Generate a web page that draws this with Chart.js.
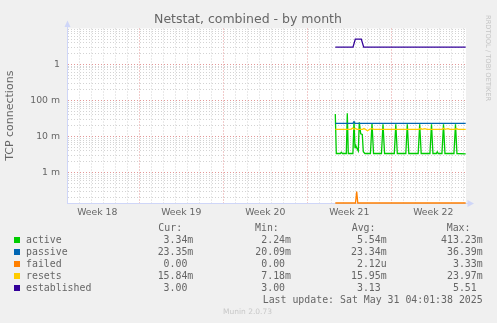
<!DOCTYPE html>
<html><head><meta charset="utf-8">
<script src="https://cdn.jsdelivr.net/npm/chart.js@4"></script>
<style>
html,body{margin:0;padding:0;background:#F0F0F0;}
#wrap{position:relative;width:497px;height:323px;overflow:hidden;background:#F0F0F0;}
canvas{position:absolute;left:0;top:0;}
.t{position:absolute;white-space:pre;color:#666;}
.mono{font-family:"DejaVu Sans Mono",monospace;font-size:9.9px;line-height:12px;}
.r{text-align:right;}
.sq{position:absolute;width:6px;height:6px;}
</style></head><body>
<div id="wrap">
<canvas id="c" width="497" height="323"></canvas>
<div class="t" id="title" style="left:0;width:496px;text-align:center;top:12.7px;font-family:'DejaVu Sans';font-size:12.5px;line-height:12.5px;">Netstat, combined - by month</div>
<div class="t" style="left:484px;top:15px;writing-mode:vertical-rl;font-family:'DejaVu Sans';font-size:6.7px;line-height:8px;color:#c4c4c4;">RRDTOOL / TOBI OETIKER</div>
<div id="legend"></div>
<div class="t" style="left:0;width:495px;text-align:center;top:307.4px;font-family:'DejaVu Sans';font-size:7.5px;line-height:10px;color:#c8c8c8;">Munin 2.0.73</div>
</div>
<script>
// ---- data (x = days relative to Mon May 26 2025 00:00) ----
const weekLabels = ['Week 18','Week 19','Week 20','Week 21','Week 22'];
const weekMid = [-24.5,-17.5,-10.5,-3.5,3.5];
const weekStarts = [-21,-14,-7,0];

const yTickValues = [0.001,0.01,0.1,1];
const yTickLabels = ['1 m','10 m','100 m','1'];

const activeT = [-4.667,-4.583,-4.25,-4.17,-4.08,-3.75,-3.667,-3.583,-3.2,-3.108,-3.025,-2.95,-2.83,-2.75,-2.667,-2.55,-2.417,-2.333,-2.2,
 -1.74,-1.608,-1.48, -0.82,-0.692,-0.56, 0.25,0.375,0.5, 1.21,1.333,1.46, 2.24,2.367,2.49, 3.22,3.35,3.47, 3.75,3.83,3.91,
 4.22,4.35,4.47, 5.22,5.35,5.47, 6.2];
const activeV = [0.042,0.0034,0.0034,0.0037,0.0034,0.0034,0.044,0.0034,0.0034,0.026,0.005,0.0055,0.0045,0.004,0.025,0.012,0.0115,0.0038,0.0034,
 0.0034,0.023,0.0034, 0.0034,0.022,0.0034, 0.0034,0.022,0.0034, 0.0034,0.022,0.0034, 0.0034,0.022,0.0034, 0.0034,0.022,0.0034, 0.0034,0.0038,0.0034,
 0.0034,0.022,0.0034, 0.0034,0.022,0.0034, 0.00334];

const passiveT = [-4.667,-3.2,-3.108,-3.025,6.2];
const passiveV = [0.02335,0.0234,0.026,0.0234,0.02335];

const failedT = [-4.667,-2.983,-2.883,-2.792,6.2];
const failedV = [0,0,0.0003,0,0];

const resetsT = [-4.667,-3.358,-3.233,-3.108,-2.983,-2.858,-2.4,-2.275,-2.15,-1.983,-1.817,-1.608,-1.44,
 2.308,2.433,2.558,2.808,2.975,4.225,4.35,4.475,4.725,4.892,5.308,5.433,5.558,6.2];
const resetsV = [0.0159,0.0159,0.0172,0.0159,0.0168,0.0159,0.0159,0.0167,0.0159,0.0146,0.0159,0.0166,0.0159,
 0.0159,0.0169,0.0159,0.0167,0.0159,0.0159,0.0169,0.0159,0.0167,0.0159,0.0159,0.0168,0.0159,0.01584];

const establishedT = [-4.667,-3.192,-3.0,-2.5,-2.3,6.2];
const establishedV = [3,3,5.0,5.0,3,3];

const seriesNames = ['active','passive','failed','resets','established'];
const seriesColors = ['#00CC00','#0066B3','#FF8000','#FFCC00','#330099'];
const curVals = ['3.34m','23.35m','0.00 ','15.84m','3.00 '];
const minVals = ['2.24m','20.09m','0.00 ','7.18m','3.00 '];
const avgVals = ['5.54m','23.34m','2.12u','15.95m','3.13 '];
const maxVals = ['413.23m','36.39m','3.33m','23.97m','5.51 '];
const lastUpdate = 'Last update: Sat May 31 04:01:38 2025';

// ---- axis ranges ----
const xMin = -27.025, xMax = 6.225;
const yMin = 1.449e-4, yMax = 9.87;

// ---- legend (HTML text) ----
const lg = document.getElementById('legend');
function addText(txt, left, top, right){
  const d = document.createElement('div');
  d.className = 't mono' + (right ? ' r' : '');
  d.textContent = txt;
  if (right) { d.style.left = (left - 400) + 'px'; d.style.width = '400px'; }
  else d.style.left = left + 'px';
  d.style.top = top + 'px';
  lg.appendChild(d);
}
const headTop = 221.9;
addText('Cur:', 158.3, headTop);
addText('Min:', 255, headTop);
addText('Avg:', 351.7, headTop);
addText('Max:', 446.7, headTop);
seriesNames.forEach((n,i)=>{
  const top = headTop + 12*(i+1);
  const sq = document.createElement('div');
  sq.className = 'sq';
  sq.style.left = '14px'; sq.style.top = (236.7 + 12*i) + 'px';
  sq.style.background = seriesColors[i];
  lg.appendChild(sq);
  addText(n, 26, top);
  addText(curVals[i], 193.3, top, true);
  addText(minVals[i], 291, top, true);
  addText(avgVals[i], 386.7, top, true);
  addText(maxVals[i], 482.7, top, true);
});
addText(lastUpdate, 482.7, headTop + 12*6, true);

// ---- chart ----
function pts(T, V){ return T.map((t,i)=>({x:t, y: V[i] > 0 ? V[i] : yMin})); }
const series = [[activeT,activeV],[passiveT,passiveV],[failedT,failedV],[resetsT,resetsV],[establishedT,establishedV]];
const datasets = series.map((s,i)=>({
  label: seriesNames[i],
  data: pts(s[0], s[1]),
  borderColor: seriesColors[i],
  backgroundColor: seriesColors[i],
  borderWidth: 1.3,
  pointRadius: 0,
  fill: false,
  tension: 0,
  order: 5 - i,
  clip: i === 2 ? 3 : 0
}));

const xTicks = [];
for (let d = -27; d <= 6; d++) xTicks.push(d);
weekMid.forEach(v=>xTicks.push(v));
xTicks.sort((a,b)=>a-b);

const yGrid = [];
for (let e = -4; e <= 0; e++) for (let m = 1; m <= 9; m++) {
  const v = m * Math.pow(10, e);
  if (v >= yMin && v <= yMax) yGrid.push(v);
}
const isDecade = v => Math.abs(Math.log10(v) - Math.round(Math.log10(v))) < 1e-9;

const MINOR = 'rgba(140,140,140,0.38)';
const MAJOR = 'rgba(200,50,50,0.5)';
const AXIS = '#CFD6F8';
const tickFont = {family:'DejaVu Sans', size:9.3};

const deco = {
  id:'deco',
  beforeDraw(chart){
    const {ctx, chartArea:a} = chart;
    ctx.save(); ctx.fillStyle = '#FFFFFF';
    ctx.fillRect(a.left, a.top, a.right - a.left, a.bottom - a.top);
    ctx.restore();
  },
  afterDraw(chart){
    const {ctx, chartArea:a} = chart;
    ctx.save();
    ctx.strokeStyle = AXIS; ctx.fillStyle = AXIS; ctx.lineWidth = 1;
    const lx = Math.round(a.left) + 0.5, by = Math.round(a.bottom) + 0.5;
    ctx.beginPath(); ctx.moveTo(lx, a.top); ctx.lineTo(lx, a.top - 4); ctx.stroke();
    ctx.beginPath(); ctx.moveTo(lx, a.top - 8); ctx.lineTo(lx - 3, a.top - 1.5); ctx.lineTo(lx + 3, a.top - 1.5); ctx.closePath(); ctx.fill();
    ctx.beginPath(); ctx.moveTo(a.right, by); ctx.lineTo(a.right + 2, by); ctx.stroke();
    ctx.beginPath(); ctx.moveTo(a.right + 8, by); ctx.lineTo(a.right + 1.5, by - 3.5); ctx.lineTo(a.right + 1.5, by + 3.5); ctx.closePath(); ctx.fill();
    ctx.restore();
  }
};

new Chart(document.getElementById('c'), {
  type:'line',
  data:{datasets},
  options:{
    responsive:false, animation:false,
    layout:{padding:{left:0, right:31, top:28.5, bottom:100}},
    plugins:{legend:{display:false}, tooltip:{enabled:false}, title:{display:false}},
    scales:{
      x:{
        type:'linear', min:xMin, max:xMax, bounds:'data',
        afterFit(s){ s.height = 20; },
        afterBuildTicks(s){ s.ticks = xTicks.map(v=>({value:v})); },
        ticks:{autoSkip:false, maxRotation:0, padding:4, font:tickFont, color:'#666',
          callback(v){ const i = weekMid.indexOf(v); return i >= 0 ? weekLabels[i] : ''; }},
        grid:{drawTicks:false, lineWidth:1,
          color(c){ const v = c.tick ? c.tick.value : 0;
            if (!Number.isInteger(v)) return 'rgba(0,0,0,0)';
            return weekStarts.includes(v) ? MAJOR : MINOR; }},
        border:{color:AXIS, width:1, dash:[1,2]}
      },
      y:{
        type:'logarithmic', min:yMin, max:yMax, bounds:'data',
        afterFit(s){ s.width = 67; },
        afterBuildTicks(s){ s.ticks = yGrid.map(v=>({value:v})); },
        ticks:{autoSkip:false, padding:7, font:tickFont, color:'#666',
          callback(v){ const i = yTickValues.findIndex(t=>Math.abs(t - v) / t < 1e-6); return i >= 0 ? yTickLabels[i] : ''; }},
        grid:{drawTicks:false, lineWidth:1,
          color(c){ const v = c.tick ? c.tick.value : 1; return isDecade(v) ? MAJOR : MINOR; }},
        border:{color:AXIS, width:1, dash:[1,2]},
        title:{display:true, text:'TCP connections', color:'#666', font:{family:'DejaVu Sans', size:11}, padding:{top:4, bottom:0}}
      }
    }
  },
  plugins:[deco]
});
</script>
</body></html>
